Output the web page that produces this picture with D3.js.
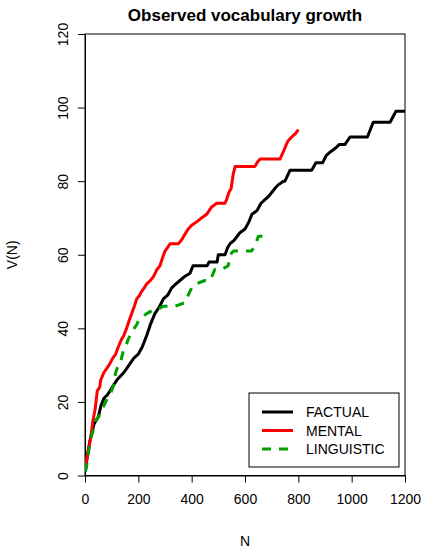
<!DOCTYPE html>
<html>
<head>
<meta charset="utf-8">
<script src="https://cdn.jsdelivr.net/npm/d3@7"></script>
<style>
  body { margin: 0; background: #fff; }
  text { font-family: "Liberation Sans", Arial, sans-serif; fill: #000; }
</style>
</head>
<body>
<div id="chart"></div>
<script>
// chart data
const seriesNames = ['FACTUAL', 'MENTAL', 'LINGUISTIC']
const seriesColors = ['#000000', '#ff0000', '#00a000']
const xTicks = [0, 200, 400, 600, 800, 1000, 1200]
const yTicks = [0, 20, 40, 60, 80, 100, 120]

const factualN = [1, 10, 20, 34, 50, 60, 71, 85, 102, 120, 146, 165, 184, 200, 215, 231, 245, 262, 280, 294, 310, 325, 340, 356, 372, 394, 405, 458, 465, 495, 500, 525, 535, 544, 560, 581, 600, 615, 626, 645, 660, 675, 690, 701, 712, 725, 744, 750, 769, 850, 866, 891, 905, 921, 940, 954, 975, 994, 1059, 1081, 1144, 1166, 1200]
const factualV = [1, 6, 10, 14, 16, 19, 21, 22, 24, 26, 28, 30, 32, 33, 35, 38, 41, 44, 46, 48, 49, 51, 52, 53, 54, 55, 57, 57, 58, 58, 60, 60, 62, 63, 64, 66, 67, 69, 71, 72, 74, 75, 76, 77, 78, 79, 80, 80, 83, 83, 85, 85, 87, 88, 89, 90, 90, 92, 92, 96, 96, 99, 99]

const mentalN = [1, 10, 21, 30, 38, 46, 55, 59, 71, 90, 105, 115, 125, 137, 145, 156, 165, 175, 185, 194, 205, 212, 222, 231, 245, 256, 270, 281, 290, 300, 310, 319, 350, 362, 370, 387, 400, 420, 437, 456, 475, 494, 525, 531, 540, 548, 556, 563, 637, 645, 656, 731, 744, 755, 762, 775, 790, 800]
const mentalV = [2, 6, 10, 15, 18, 23, 24, 26, 28, 30, 32, 33, 35, 37, 38, 40, 42, 44, 46, 48, 49, 50, 51, 52, 53, 54, 56, 57, 59, 61, 62, 63, 63, 64, 65, 67, 68, 69, 70, 71, 73, 74, 74, 75, 77, 78, 82, 84, 84, 85, 86, 86, 88, 90, 91, 92, 93, 94]

const linguisticN = [1, 5, 21, 30, 40, 52, 62, 71, 84, 95, 109, 115, 125, 134, 144, 152, 162, 175, 194, 200, 215, 231, 256, 269, 294, 337, 375, 387, 400, 412, 450, 469, 487, 512, 537, 545, 556, 625, 640, 650, 675]
const linguisticV = [1, 2, 10, 12, 15, 16, 18, 19, 21, 22, 25, 28, 30, 31, 34, 35, 37, 39, 41, 42, 43, 44, 45, 45, 46, 46, 47, 49, 51, 52, 53, 53, 56, 56, 57, 60, 61, 61, 63, 65, 65]

const seriesData = [
  d3.zip(factualN, factualV),
  d3.zip(mentalN, mentalV),
  d3.zip(linguisticN, linguisticV)
]

const w = 424
const h = 549
const margin = {top: 34, right: 19, bottom: 73.5, left: 85}
const plotWidth = w - margin.left - margin.right
const plotHeight = h - margin.top - margin.bottom

const svg = d3.select('#chart')
  .append('svg')
    .attr('width', w)
    .attr('height', h)

const g = svg.append('g')
  .attr('transform', 'translate(' + margin.left + ',' + margin.top + ')')

const xScale = d3.scaleLinear().domain([0, 1200]).range([0, plotWidth])
const yScale = d3.scaleLinear().domain([0, 120]).range([plotHeight, 0])

// clip the curves to the plot box
g.append('clipPath').attr('id', 'clip')
  .append('rect')
    .attr('width', plotWidth)
    .attr('height', plotHeight)

// axes, R style: ticks outside, labels below / rotated on the left
const xAxis = d3.axisBottom(xScale).tickValues(xTicks).tickFormat(d3.format('d'))
  .tickSize(7).tickPadding(12).tickSizeOuter(0)
const yAxis = d3.axisLeft(yScale).tickValues(yTicks).tickFormat(d3.format('d'))
  .tickSize(7).tickSizeOuter(0)

const gx = g.append('g')
  .attr('transform', 'translate(0,' + plotHeight + ')')
  .call(xAxis)
gx.selectAll('text').style('font-size', '14px').attr('fill', '#000')
gx.selectAll('line, path').attr('stroke', '#000')

const gy = g.append('g').call(yAxis)
gy.selectAll('line, path').attr('stroke', '#000')
gy.selectAll('text')
  .style('font-size', '14px')
  .attr('fill', '#000')
  .attr('x', null).attr('dy', null)
  .attr('text-anchor', 'middle')
  .attr('transform', 'translate(-22,0) rotate(-90)')
  .attr('y', 5)

// plot border
g.append('rect')
  .attr('width', plotWidth)
  .attr('height', plotHeight)
  .attr('fill', 'none')
  .attr('stroke', '#000')

const line = d3.line()
  .x(d => xScale(d[0]))
  .y(d => yScale(d[1]))

g.append('g').attr('clip-path', 'url(#clip)')
  .selectAll('path')
  .data(seriesData)
  .enter()
  .append('path')
    .attr('d', line)
    .attr('fill', 'none')
    .attr('stroke', (d, i) => seriesColors[i])
    .attr('stroke-width', 3)
    .attr('stroke-dasharray', (d, i) => i == 2 ? '9,8' : null)
    .attr('stroke-linejoin', 'round')

// titles
svg.append('text')
  .attr('x', margin.left + plotWidth / 2)
  .attr('y', 21)
  .attr('text-anchor', 'middle')
  .style('font-size', '17px')
  .style('font-weight', 'bold')
  .text('Observed vocabulary growth')

svg.append('text')
  .attr('x', margin.left + plotWidth / 2)
  .attr('y', 546)
  .attr('text-anchor', 'middle')
  .style('font-size', '14px')
  .text('N')

svg.append('text')
  .attr('transform', 'translate(17,' + (margin.top + plotHeight / 2) + ') rotate(-90)')
  .attr('text-anchor', 'middle')
  .style('font-size', '14px')
  .text('V(N)')

// legend
const legend = svg.append('g').attr('transform', 'translate(249,393)')
legend.append('rect')
  .attr('width', 150)
  .attr('height', 74)
  .attr('fill', '#fff')
  .attr('stroke', '#000')

const rows = legend.selectAll('.row')
  .data(seriesNames)
  .enter()
  .append('g')
    .attr('class', 'row')
    .attr('transform', (d, i) => 'translate(0,' + (19 + i * 18.5) + ')')

rows.append('line')
  .attr('x1', 13).attr('x2', 44)
  .attr('stroke', (d, i) => seriesColors[i])
  .attr('stroke-width', 3)
  .attr('stroke-dasharray', (d, i) => i == 2 ? '9,8' : null)

rows.append('text')
  .attr('x', 57)
  .attr('y', 5)
  .style('font-size', '14px')
  .text(d => d)
</script>
</body>
</html>
